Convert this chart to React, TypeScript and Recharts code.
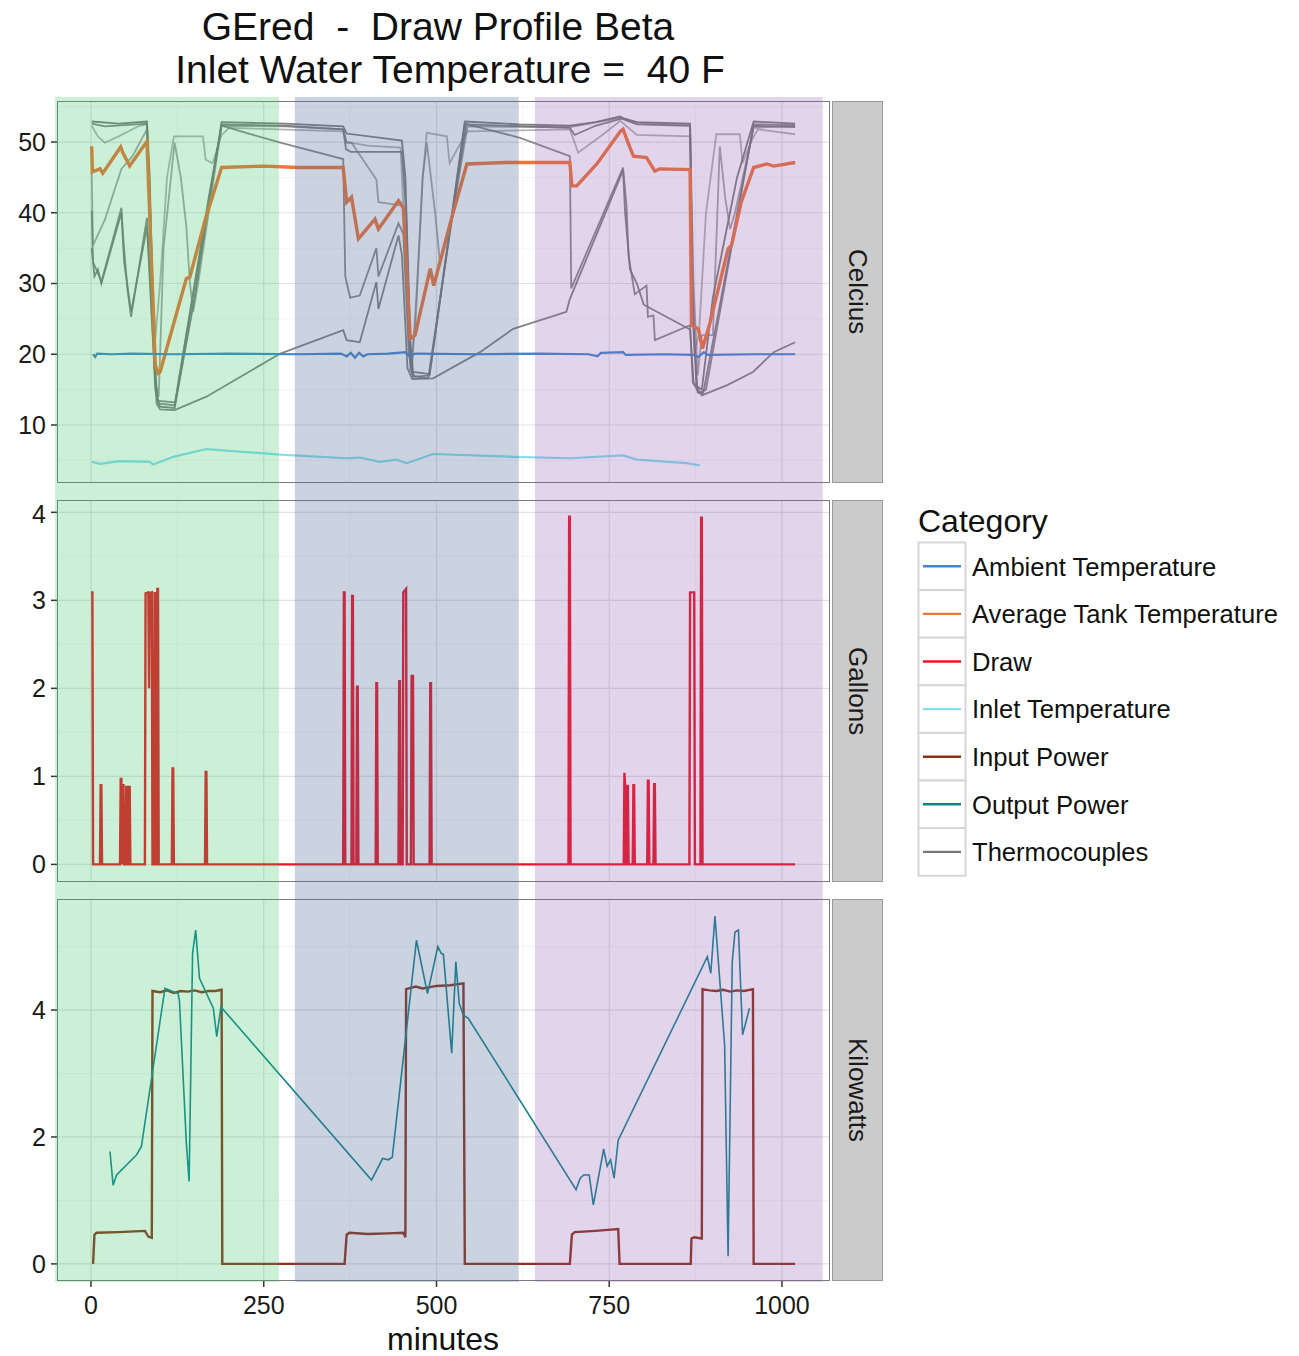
import React from "react";
import { CartesianGrid, ComposedChart, Line, ReferenceArea, XAxis, YAxis } from "recharts";

type Pt = [number, number];

// x axis (minutes)
const xDomain = [-49.2, 1069.5];
const xTicks = [0, 250, 500, 750, 1000];
const xMinor = [125, 375, 625, 875];

// facets
const facetLabels = ["Celcius", "Gallons", "Kilowatts"];
const celsiusTicks = [10, 20, 30, 40, 50];
const celsiusMinor = [5, 15, 25, 35, 45, 55];
const gallonTicks = [0, 1, 2, 3, 4];
const gallonMinor = [0.5, 1.5, 2.5, 3.5];
const kwTicks = [0, 2, 4];
const kwMinor = [1, 3, 5];

// shaded phases (minutes)
const bandStart = [-52, 295, 642.5];
const bandEnd = [272, 619, 1059];
const bandColors = ["rgb(50,190,100)", "rgb(82,105,152)", "rgb(139,87,175)"];
const bandOpacity = [0.25, 0.3, 0.25];

// legend
const categories = ["Ambient Temperature", "Average Tank Temperature", "Draw", "Inlet Temperature", "Input Power", "Output Power", "Thermocouples"];
const categoryColors = ["#3F86CF", "#EF7436", "#EE1422", "#86DEEE", "#8E3117", "#11848F", "#777777"];

const ambient: Pt[] = [[3, 20.0], [6, 19.6], [9, 20.1], [30, 20.0], [60, 20.1], [120, 20.0], [200, 20.1], [300, 20.0], [362, 20.1], [370, 19.7], [376, 20.2], [382, 19.5], [388, 20.2], [394, 19.7], [400, 20.0], [430, 20.1], [455, 20.3], [460, 19.8], [470, 20.1], [560, 20.0], [650, 20.1], [720, 20.0], [733, 19.7], [738, 20.2], [770, 20.3], [774, 19.9], [830, 20.0], [872, 19.9], [879, 19.6], [887, 20.3], [893, 19.9], [960, 20.0], [1019, 20.0]];

const avgTank: Pt[] = [[1, 49.4], [2, 45.8], [13, 46.2], [17, 45.6], [43, 49.3], [46, 48.5], [56, 46.6], [81, 50.1], [93, 18.5], [97, 17.3], [100, 17.5], [119, 24.1], [138, 30.7], [143, 30.9], [165, 38.9], [189, 46.4], [250, 46.6], [300, 46.4], [365, 46.4], [370, 41.5], [377, 42.2], [387, 36.3], [411, 39.1], [416, 37.7], [445, 41.7], [452, 40.7], [462, 22.2], [469, 22.7], [491, 32.1], [496, 29.7], [524, 40.0], [544, 46.9], [600, 47.1], [693, 47.1], [696, 43.8], [703, 43.8], [732, 46.9], [766, 51.5], [770, 51.8], [780, 49.2], [785, 48.0], [804, 47.8], [816, 45.9], [823, 46.2], [867, 46.1], [869, 24.1], [879, 23.6], [885, 20.8], [896, 24.5], [922, 34.9], [927, 35.4], [941, 41.5], [959, 46.4], [978, 46.9], [988, 46.6], [1019, 47.1]];

const inlet: Pt[] = [[1, 4.8], [13, 4.5], [42, 4.9], [85, 4.8], [90, 4.4], [119, 5.5], [167, 6.6], [274, 5.8], [370, 5.3], [389, 5.4], [418, 4.8], [442, 5.1], [457, 4.6], [495, 5.9], [611, 5.5], [693, 5.3], [770, 5.7], [790, 5.1], [862, 4.6], [881, 4.3]];

const tc1: Pt[] = [[1, 52.9], [40, 52.6], [81, 52.9], [85, 45], [90, 25], [95, 14], [100, 12.6], [121, 12.4], [150, 28], [170, 41], [189, 52.8], [280, 52.6], [365, 52.2], [370, 51.2], [450, 50.2], [455, 45], [462, 22], [466, 17.5], [490, 17.2], [541, 52.9], [620, 52.5], [693, 52.3], [730, 52.8], [766, 53.6], [772, 53.3], [790, 52.8], [867, 52.6], [870, 30], [876, 15.5], [884, 15], [900, 28], [935, 45], [959, 52.9], [1019, 52.6]];

const tc2: Pt[] = [[1, 52.6], [20, 52.2], [81, 52.6], [86, 40], [92, 18], [97, 13.4], [122, 13.2], [189, 52.5], [280, 52.3], [365, 51.8], [369, 49], [376, 48.6], [450, 48.6], [456, 40], [463, 18], [468, 16.9], [488, 16.6], [543, 52.5], [693, 52.0], [700, 51], [730, 52.3], [768, 53.3], [790, 52.5], [867, 52.3], [871, 25], [878, 14.6], [886, 14.5], [959, 52.3], [1019, 52.1]];

const tc3: Pt[] = [[1, 52.3], [10, 50.8], [20, 49.9], [40, 50.8], [70, 52.3], [81, 52.5], [86, 38], [93, 22.2], [100, 30], [110, 45], [120, 50.8], [162, 50.8], [166, 47.5], [176, 47], [189, 51], [200, 52], [365, 51.5], [370, 50], [400, 49.5], [448, 49.2], [455, 35], [462, 17.5], [470, 25], [480, 45], [486, 51.3], [515, 50.8], [519, 47], [530, 49], [545, 51.5], [693, 51.8], [705, 48.5], [740, 51], [766, 53], [790, 51], [867, 50.8], [873, 20], [880, 23], [890, 40], [905, 51.1], [939, 51.1], [943, 47], [955, 50], [965, 51.8], [1019, 51.1]];

const tc4: Pt[] = [[1, 45.7], [3, 35.4], [20, 39], [44, 46.2], [60, 48], [81, 51.8], [86, 35], [93, 16], [98, 14], [105, 35], [121, 49.9], [130, 45], [138, 38], [143, 30.2], [148, 26], [155, 30], [189, 52.3], [280, 52.2], [365, 51.8], [370, 49.9], [377, 49.9], [413, 44.7], [416, 41.5], [452, 41], [458, 28], [464, 17], [472, 30], [480, 45], [486, 49.9], [498, 40], [505, 33], [520, 38], [545, 52.2], [693, 52.1], [768, 53.4], [790, 52.7], [867, 52.4], [872, 30], [878, 17], [884, 22.7], [900, 22.7], [910, 49.4], [918, 42], [925, 37.7], [932, 40], [959, 52], [1019, 52.3]];

const tc5: Pt[] = [[1, 40.3], [3, 33], [10, 31.5], [15, 30.2], [44, 40.7], [47, 36], [53, 29], [58, 25.3], [81, 39.3], [86, 30], [93, 15], [98, 13], [121, 12.8], [150, 30], [170, 42], [189, 52.3], [274, 49.9], [365, 47.6], [368, 31], [375, 28], [389, 28.3], [413, 35], [416, 31], [445, 38.5], [452, 37], [460, 20], [466, 16.8], [490, 17], [541, 52.6], [621, 50.6], [693, 48], [695, 29.3], [770, 46.4], [775, 41], [778, 33.9], [787, 28.5], [804, 29.7], [806, 25.3], [814, 25.5], [816, 22], [867, 24.1], [871, 16], [880, 14.5], [890, 15], [959, 52.5], [1019, 52.4]];

const tc6: Pt[] = [[1, 35], [5, 31], [10, 32], [15, 30], [44, 40], [48, 33], [58, 26], [81, 38], [88, 25], [95, 13], [100, 12.2], [121, 12.1], [167, 14], [274, 20.1], [365, 23.4], [370, 22], [389, 21.7], [413, 30.2], [416, 26.4], [445, 36.8], [450, 34], [458, 18], [465, 16.5], [495, 16.6], [563, 20.3], [611, 23.6], [688, 26], [693, 27.8], [770, 46], [773, 40], [780, 32], [790, 30], [800, 27], [867, 23.5], [872, 16], [884, 14.2], [920, 15.6], [958, 17.5], [988, 20.3], [1019, 21.7]];

const thermocouples = [tc1, tc2, tc3, tc4, tc5, tc6];
const tcOpacity = [0.95, 0.9, 0.55, 0.65, 0.85, 0.9];

const draw: Pt[] = [[0, 3.09], [2, 3.09], [3, 0], [13, 0], [14, 0.9], [15, 0.9], [16, 0], [42, 0], [43, 0.97], [44, 0.97], [45, 0], [46, 0.9], [47, 0.9], [48, 0], [50, 0], [51, 0.88], [52, 0.88], [53, 0], [54, 0], [55, 0.88], [56, 0.88], [57, 0], [78, 0], [79, 3.08], [83, 3.09], [84, 2.0], [85, 3.08], [88, 3.09], [89, 0], [91, 0], [92, 3.08], [93, 3.08], [94, 0], [95, 0], [96, 3.13], [97, 3.13], [98, 0], [117, 0], [118, 1.09], [119, 1.09], [120, 0], [165, 0], [166, 1.05], [167, 1.05], [168, 0], [365, 0], [366, 3.09], [367, 3.09], [368, 0], [377, 0], [378, 3.05], [379, 3.05], [380, 0], [384, 0], [385, 2.02], [386, 2.02], [387, 0], [412, 0], [413, 2.06], [414, 2.06], [415, 0], [445, 0], [446, 2.08], [447, 2.08], [448, 0], [451, 0], [452, 3.09], [453, 3.1], [455, 3.12], [456, 3.13], [457, 0], [463, 0], [464, 2.14], [466, 2.14], [467, 0], [490, 0], [491, 2.06], [492, 2.06], [493, 0], [691, 0], [692, 3.95], [693, 3.95], [694, 0], [771, 0], [772, 1.04], [773, 0.89], [774, 0], [775, 0], [776, 0.89], [777, 0.89], [778, 0], [784, 0], [785, 0.9], [786, 0.9], [787, 0], [805, 0], [806, 0.95], [807, 0.95], [808, 0], [814, 0], [815, 0.91], [816, 0.91], [817, 0], [866, 0], [867, 3.09], [873, 3.09], [874, 0], [882, 0], [883, 3.94], [884, 3.94], [885, 0], [1019, 0]];

const inputPower: Pt[] = [[3, 0], [5, 0.46], [8, 0.49], [40, 0.5], [78, 0.52], [83, 0.43], [88, 0.41], [89, 4.3], [100, 4.28], [110, 4.31], [120, 4.27], [130, 4.3], [140, 4.29], [150, 4.31], [160, 4.28], [170, 4.3], [180, 4.3], [189, 4.32], [190, 0], [367, 0], [370, 0.46], [374, 0.49], [400, 0.47], [430, 0.48], [452, 0.49], [455, 0.42], [456, 4.33], [470, 4.37], [480, 4.34], [500, 4.38], [520, 4.39], [539, 4.42], [541, 0], [693, 0], [696, 0.46], [700, 0.5], [730, 0.52], [763, 0.55], [765, 0], [868, 0], [869, 0.4], [873, 0.42], [884, 0.4], [885, 4.33], [895, 4.31], [905, 4.3], [915, 4.32], [925, 4.29], [935, 4.31], [945, 4.3], [958, 4.33], [959, 0], [1019, 0]];

const outputPower: Pt[] = [[27.5, 1.77], [32, 1.24], [37, 1.4], [66, 1.72], [73, 1.85], [107, 4.34], [126, 4.26], [128, 4.15], [138, 1.9], [142, 1.3], [147, 4.89], [151.5, 5.26], [157, 4.5], [177, 4.03], [182, 3.58], [188, 4.05], [406, 1.32], [422, 1.66], [430, 1.64], [436, 1.68], [471, 5.1], [487, 4.26], [502, 5.0], [507, 4.89], [510, 4.88], [522, 3.32], [528, 4.76], [533, 4.1], [539, 3.92], [546, 3.87], [702, 1.17], [708, 1.35], [713, 1.4], [721, 1.4], [727, 0.93], [742, 1.81], [747, 1.54], [752, 1.64], [757, 1.35], [763, 1.95], [892, 4.84], [897, 4.58], [903, 5.48], [917, 3.45], [922, 0.12], [928, 4.76], [932, 5.23], [937, 5.26], [943, 3.61], [953, 4.03]];

const FONT = "'Liberation Sans', Arial, Helvetica, sans-serif";
const CHART_W = 830;
const PLOT_L = 57;

const toRows = (pts: Pt[]) => pts.map(([t, v]) => ({ t, v }));

function series(pts: Pt[], color: string, width: number, opacity = 1, key?: string) {
  return (
    <Line
      key={key}
      data={toRows(pts)}
      dataKey="v"
      type="linear"
      stroke={color}
      strokeWidth={width}
      strokeOpacity={opacity}
      dot={false}
      activeDot={false}
      isAnimationActive={false}
    />
  );
}

interface PanelProps {
  top: number;
  plotH: number;
  domain: number[];
  ticks: number[];
  minor: number[];
  label: string;
  showX?: boolean;
  children: React.ReactNode;
}

function Panel({ top, plotH, domain, ticks, minor, label, showX, children }: PanelProps) {
  const axisH = showX ? 48 : 0;
  const tickStyle = { fontSize: 25, fill: "#1a1a1a", fontFamily: FONT };
  return (
    <>
      <div style={{ position: "absolute", left: 0, top, width: CHART_W, height: plotH + axisH }}>
        <ComposedChart width={CHART_W} height={plotH + axisH} margin={{ top: 0, right: 0, bottom: 0, left: 0 }}>
          <CartesianGrid horizontalValues={minor} verticalValues={xMinor} stroke="#F2F2F2" strokeWidth={0.8} />
          <CartesianGrid horizontalValues={ticks} verticalValues={xTicks} stroke="#E2E2E2" strokeWidth={1.2} />
          <XAxis
            type="number"
            dataKey="t"
            domain={xDomain}
            ticks={xTicks}
            allowDataOverflow
            hide={!showX}
            height={axisH}
            axisLine={false}
            tickSize={6}
            tickMargin={9}
            tickLine={{ stroke: "#333", strokeWidth: 1.5 }}
            tick={tickStyle}
          />
          <YAxis
            type="number"
            dataKey="v"
            domain={domain}
            ticks={ticks}
            allowDataOverflow
            width={PLOT_L}
            axisLine={false}
            tickSize={6}
            tickMargin={5}
            tickLine={{ stroke: "#333", strokeWidth: 1.5 }}
            tick={tickStyle}
          />
          {children}
        </ComposedChart>
      </div>
      <div style={{ position: "absolute", left: PLOT_L, top, width: CHART_W - PLOT_L, height: plotH, border: "1.5px solid #7a7a7a", boxSizing: "border-box", pointerEvents: "none" }} />
      <div style={{ position: "absolute", left: 832, top, width: 51, height: plotH, background: "#CBCBCB", border: "1.5px solid #9a9a9a", boxSizing: "border-box", display: "flex", alignItems: "center", justifyContent: "center" }}>
        <span style={{ writingMode: "vertical-rl", fontFamily: FONT, fontSize: 26, color: "#1a1a1a" }}>{label}</span>
      </div>
    </>
  );
}

export default function App() {
  return (
    <div style={{ position: "absolute", left: 0, top: 0, width: 1299, height: 1356, background: "#fff", overflow: "hidden" }}>
      <Panel top={101} plotH={382} domain={[1.8, 55.8]} ticks={celsiusTicks} minor={celsiusMinor} label={facetLabels[0]}>
        {thermocouples.map((tc, i) => series(tc, categoryColors[6], 1.8, tcOpacity[i], `tc${i}`))}
        {series(avgTank, categoryColors[1], 3.4)}
        {series(ambient, categoryColors[0], 2.2)}
        {series(inlet, categoryColors[3], 2.2)}
      </Panel>
      <Panel top={500} plotH={382} domain={[-0.2, 4.14]} ticks={gallonTicks} minor={gallonMinor} label={facetLabels[1]}>
        {series(draw, categoryColors[2], 2.4)}
      </Panel>
      <Panel top={899} plotH={382} domain={[-0.27, 5.75]} ticks={kwTicks} minor={kwMinor} label={facetLabels[2]} showX>
        {series(inputPower, categoryColors[4], 2.4)}
        {series(outputPower, categoryColors[5], 1.6)}
      </Panel>

      {/* translucent phase bands laid over all three facets */}
      <div style={{ position: "absolute", left: 0, top: 97, width: CHART_W, height: 1185, pointerEvents: "none" }}>
        <ComposedChart width={CHART_W} height={1185} data={toRows(ambient)} margin={{ top: 0, right: 0, bottom: 0, left: PLOT_L }}>
          <XAxis type="number" dataKey="t" domain={xDomain} allowDataOverflow hide />
          <YAxis type="number" dataKey="v" domain={[0, 1]} allowDataOverflow hide />
          {bandStart.map((x1, i) => (
            <ReferenceArea key={i} x1={x1} x2={bandEnd[i]} ifOverflow="visible" fill={bandColors[i]} fillOpacity={bandOpacity[i]} stroke="none" />
          ))}
        </ComposedChart>
      </div>

      <svg width={1299} height={1356} style={{ position: "absolute", left: 0, top: 0, pointerEvents: "none" }} fontFamily={FONT}>
        <text x={438} y={40} fontSize={39} textAnchor="middle" fill="#111" style={{ whiteSpace: "pre" }}>GEred  -  Draw Profile Beta</text>
        <text x={450} y={83} fontSize={39} textAnchor="middle" fill="#111" style={{ whiteSpace: "pre" }}>Inlet Water Temperature =  40 F</text>
        <text x={443} y={1350} fontSize={32} textAnchor="middle" fill="#111">minutes</text>
        <text x={918} y={532} fontSize={32} fill="#111">Category</text>
        {categories.map((name, i) => {
          const y = 542.5 + i * 47.6;
          return (
            <g key={name}>
              <rect x={918.5} y={y} width={47} height={47.6} fill="#fff" stroke="#D6D6D6" strokeWidth={2} />
              <line x1={923} x2={961} y1={y + 23.8} y2={y + 23.8} stroke={categoryColors[i]} strokeWidth={2.4} />
              <text x={972} y={y + 33} fontSize={25.6} fill="#111">{name}</text>
            </g>
          );
        })}
      </svg>
    </div>
  );
}
